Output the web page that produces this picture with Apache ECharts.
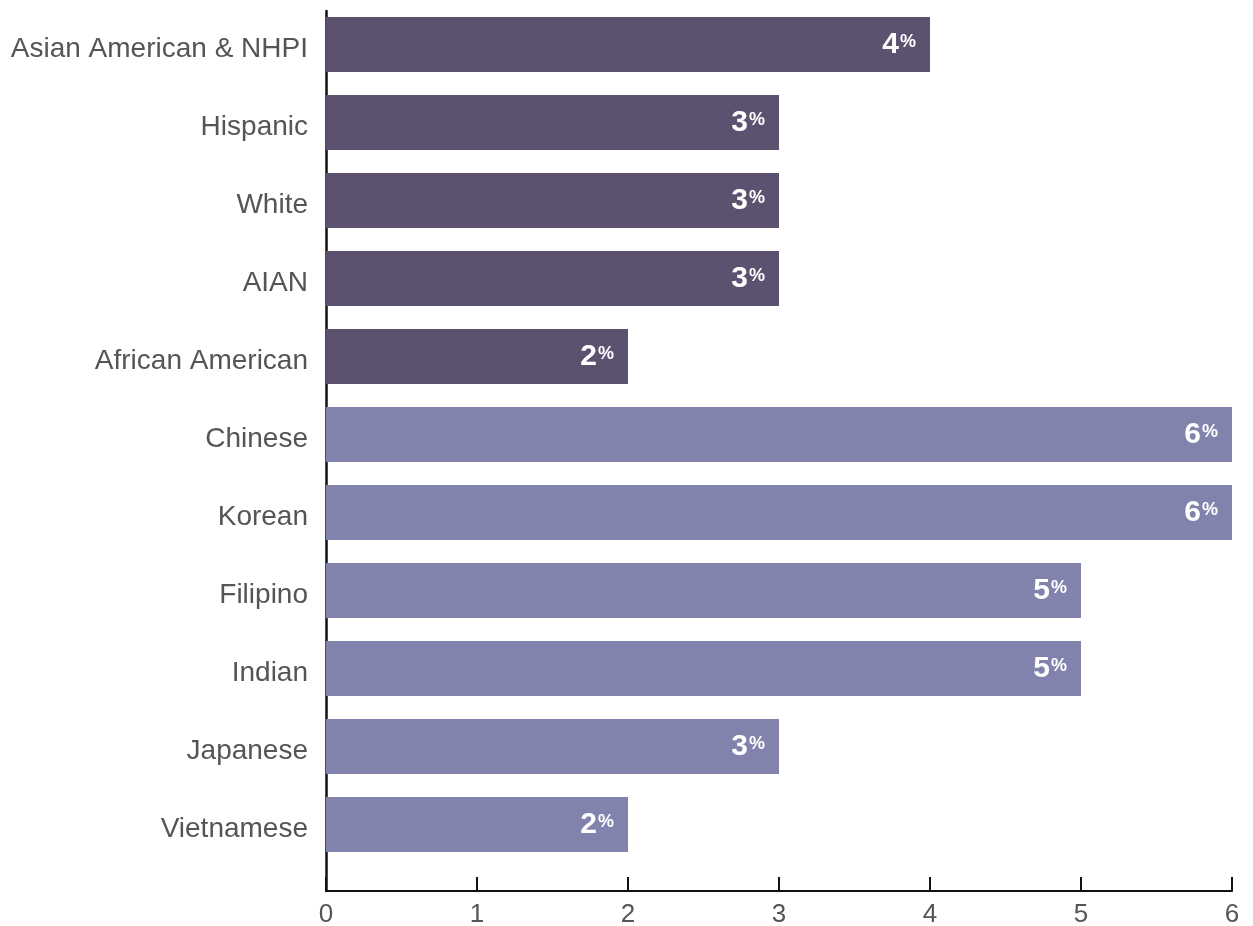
<!DOCTYPE html>
<html><head><meta charset="utf-8">
<script src="https://cdn.jsdelivr.net/npm/echarts@6/dist/echarts.min.js"></script>
<style>html,body{margin:0;padding:0;background:#fff}#c{width:1253px;height:926px}</style>
</head><body><div id="c"></div>
<script>
const categories = ["Asian American & NHPI","Hispanic","White","AIAN","African American","Chinese","Korean","Filipino","Indian","Japanese","Vietnamese"];
const values = [4,3,3,3,2,6,6,5,5,3,2];
const groups = ["agg","agg","agg","agg","agg","sub","sub","sub","sub","sub","sub"];
const xTicks = [0,1,2,3,4,5,6];
const colors = {agg:"#5c5270", sub:"#8283ac"};

const chart = echarts.init(document.getElementById('c'));
const font = "'Liberation Sans', Arial, sans-serif";
chart.setOption({
  animation:false,
  grid:[
    {left:326, right:21, top:5.5, height:858, containLabel:false, outerBoundsMode:'none'},
    {left:326, right:21, top:11, bottom:35, containLabel:false, outerBoundsMode:'none'}
  ],
  xAxis:[
    {gridIndex:0, type:'value', min:xTicks[0], max:xTicks[xTicks.length-1], interval:1, show:false},
    {gridIndex:1, type:'value', min:xTicks[0], max:xTicks[xTicks.length-1], interval:1,
     axisLine:{show:true, lineStyle:{color:'#111', width:2}},
     axisTick:{show:true, inside:true, length:14, lineStyle:{color:'#111', width:2}},
     splitLine:{show:false},
     axisLabel:{color:'#555', fontSize:26, fontFamily:font, margin:11}}
  ],
  yAxis:[
    {gridIndex:0, type:'category', data:categories, inverse:true,
     axisLine:{show:false}, axisTick:{show:false},
     axisLabel:{color:'#555', fontSize:28, fontFamily:font, margin:18, interval:0, verticalAlign:'top', lineHeight:10}},
    {gridIndex:1, type:'value', min:0, max:1, show:true,
     axisLine:{show:true, lineStyle:{color:'#111', width:2.5}},
     axisTick:{show:false}, axisLabel:{show:false}, splitLine:{show:false}}
  ],
  series:[{
    type:'bar', xAxisIndex:0, yAxisIndex:0,
    barWidth:55,
    data: values.map((v,i)=>({value:v, itemStyle:{color:colors[groups[i]]}})),
    label:{show:true, position:'insideRight', distance:14,
      formatter: p => '{n|'+p.value+'}{p|%}',
      rich:{
        n:{color:'#fff', fontSize:30, fontWeight:'bold', fontFamily:font},
        p:{color:'#fff', fontSize:18, fontWeight:'bold', fontFamily:font, padding:[0,0,4,1]}
      }}
  }]
});
</script></body></html>
